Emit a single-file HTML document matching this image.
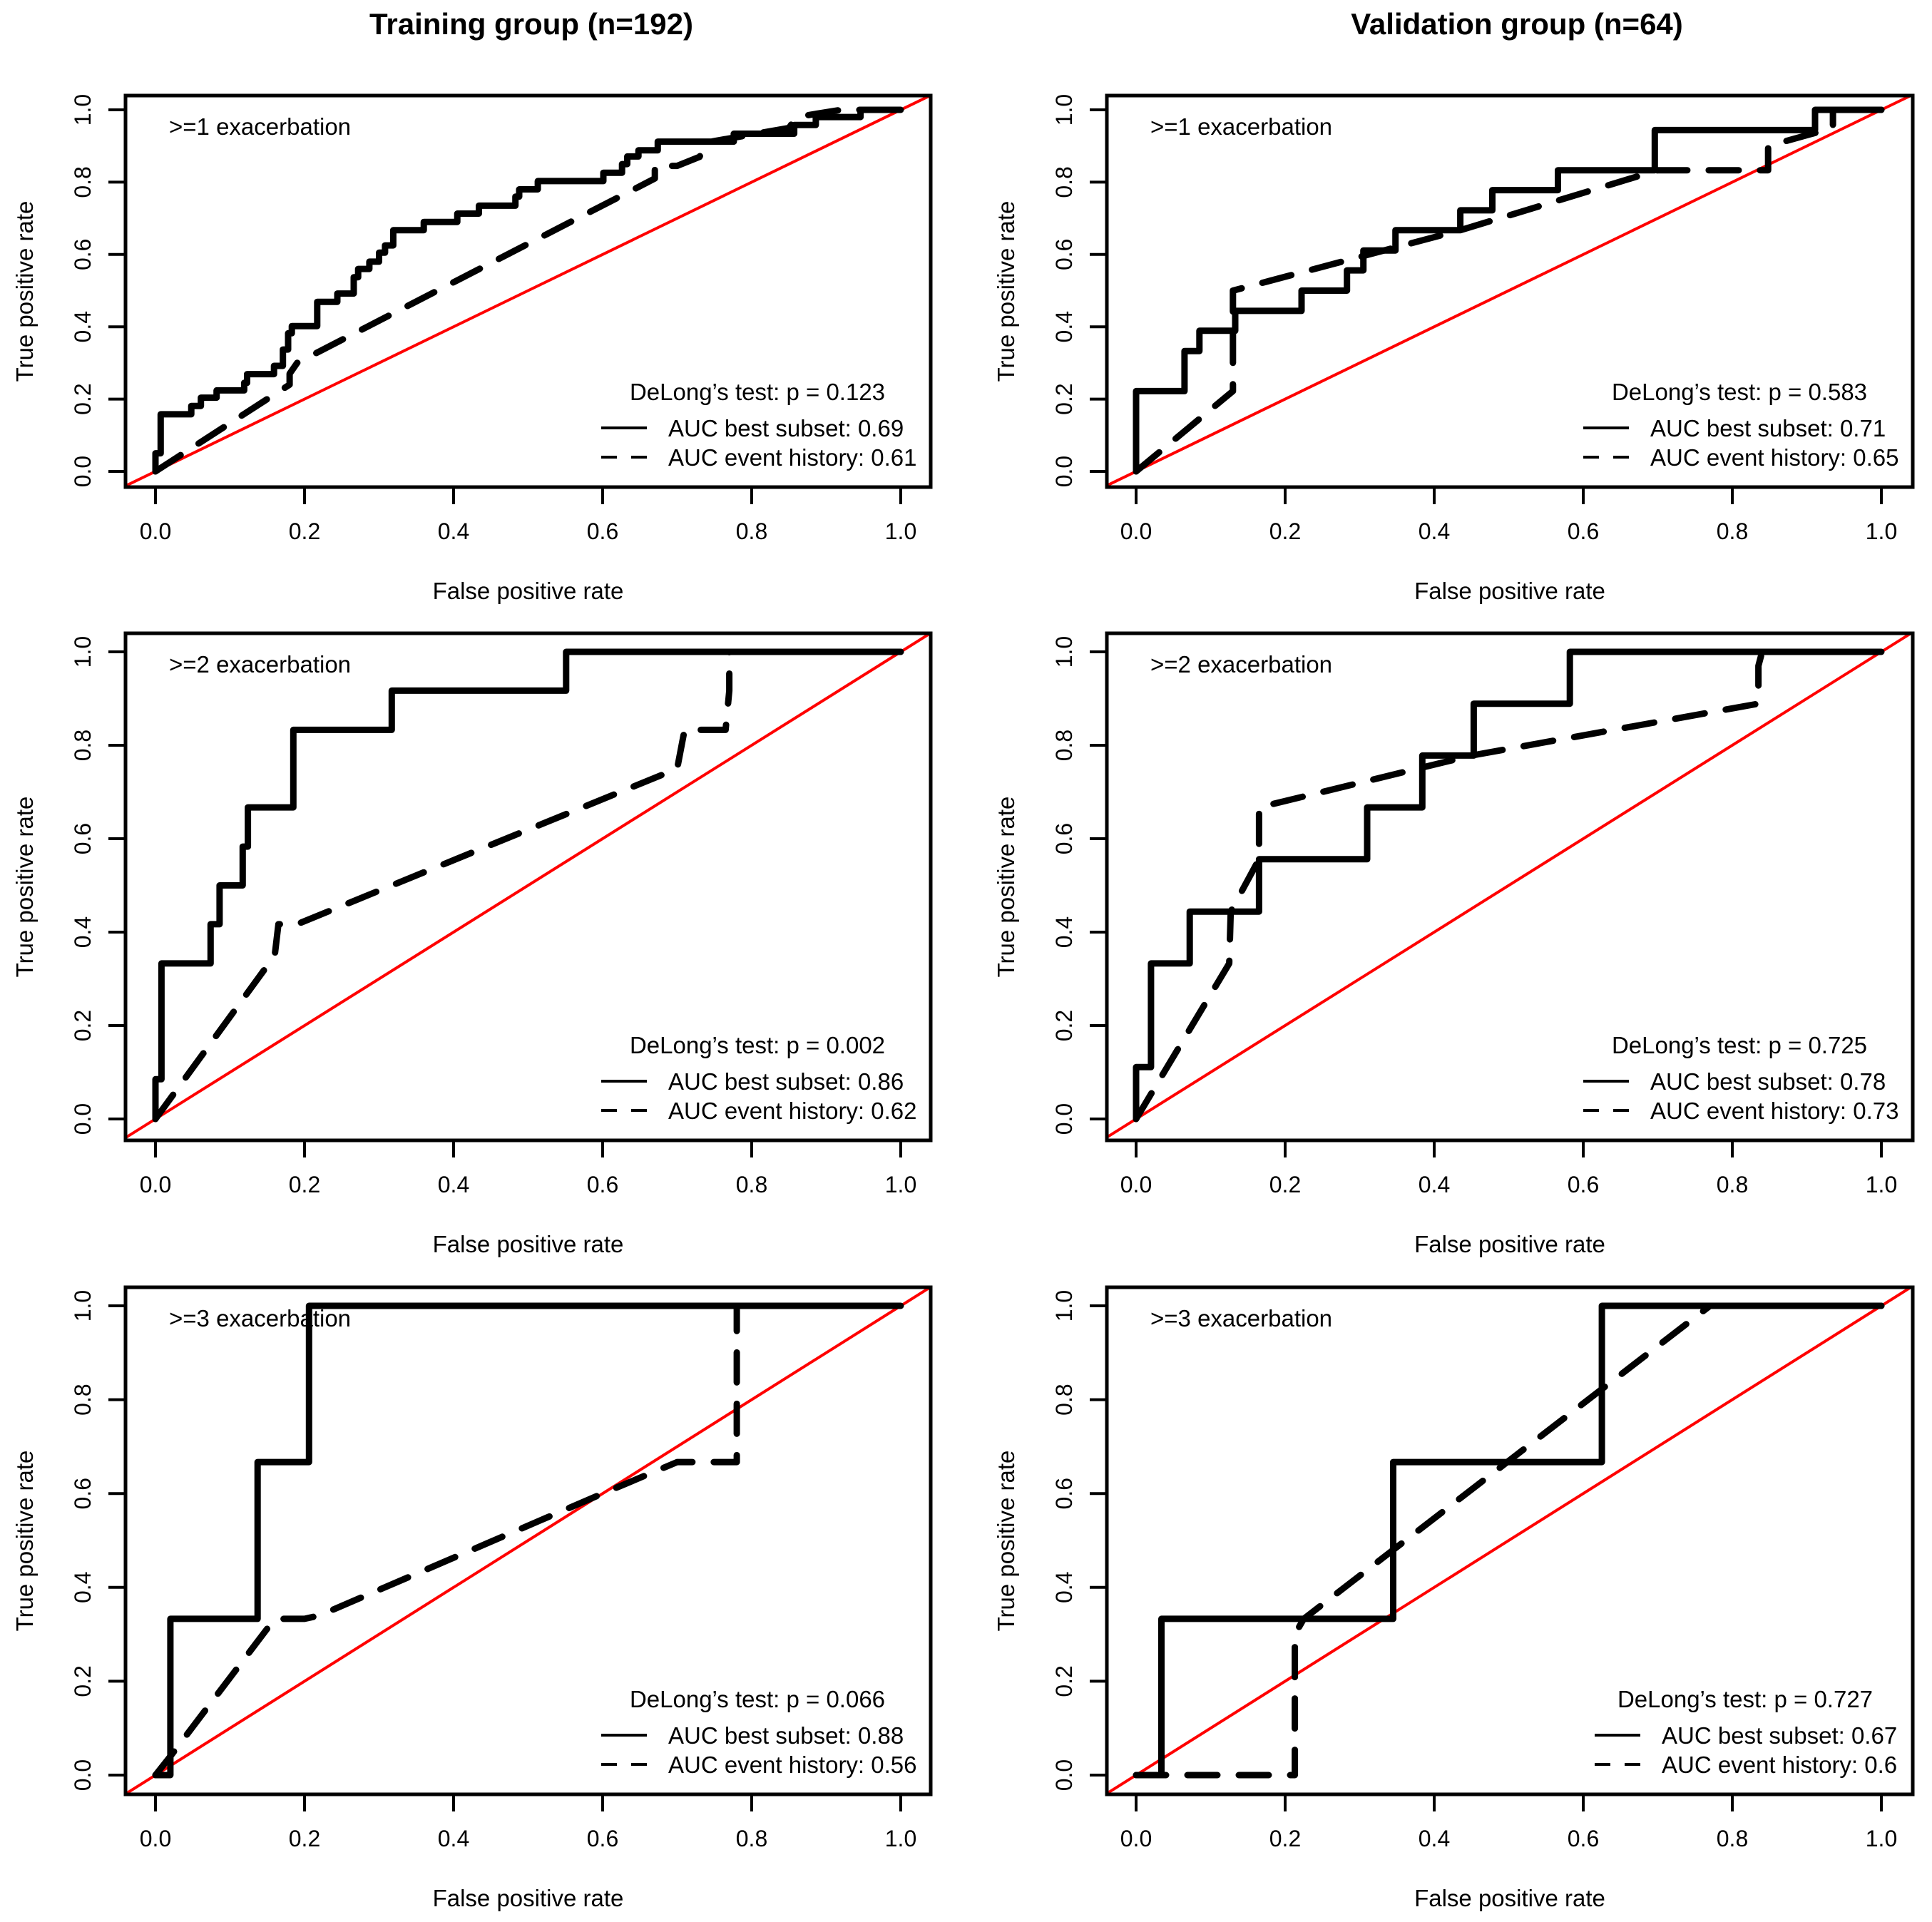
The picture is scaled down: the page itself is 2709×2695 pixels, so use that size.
<!DOCTYPE html>
<html><head><meta charset="utf-8"><title>ROC curves</title>
<style>
html,body{margin:0;padding:0;background:#fff;}
svg{display:block;font-family:"Liberation Sans",Arial,sans-serif;}
</style></head>
<body>
<svg id="chart" width="2709" height="2695" viewBox="0 0 2709 2695" xmlns="http://www.w3.org/2000/svg">
<rect x="0" y="0" width="2709" height="2695" fill="#fff"/>
<text x="745" y="48" font-size="42" font-weight="bold" text-anchor="middle">Training group (n=192)</text>
<text x="2127" y="48" font-size="42" font-weight="bold" text-anchor="middle">Validation group (n=64)</text>
</svg>
<script>
// ---- data ----
const ticks = [0, 0.2, 0.4, 0.6, 0.8, 1.0];
const tickLabels = ["0.0", "0.2", "0.4", "0.6", "0.8", "1.0"];
const panelLabels = [">=1 exacerbation", ">=2 exacerbation", ">=3 exacerbation", ">=1 exacerbation", ">=2 exacerbation", ">=3 exacerbation"];
const delongP = ["0.123", "0.002", "0.066", "0.583", "0.725", "0.727"];
const aucBest = ["0.69", "0.86", "0.88", "0.71", "0.78", "0.67"];
const aucHistory = ["0.61", "0.62", "0.56", "0.65", "0.73", "0.6"];

// Training >=1
const t1SolidX = [0,0,0.007,0.007,0.048,0.048,0.061,0.061,0.082,0.082,0.119,0.119,0.123,0.123,0.159,0.159,0.171,0.171,0.178,0.178,0.183,0.183,0.217,0.217,0.244,0.244,0.266,0.266,0.272,0.272,0.287,0.287,0.300,0.300,0.308,0.308,0.319,0.319,0.360,0.360,0.405,0.405,0.434,0.434,0.483,0.483,0.488,0.488,0.513,0.513,0.601,0.601,0.626,0.626,0.633,0.633,0.648,0.648,0.674,0.674,0.776,0.776,0.857,0.857,0.886,0.886,0.946,0.946,1.0];
const t1SolidY = [0,0.05,0.05,0.158,0.158,0.181,0.181,0.204,0.204,0.224,0.224,0.245,0.245,0.269,0.269,0.292,0.292,0.337,0.337,0.382,0.382,0.402,0.402,0.469,0.469,0.492,0.492,0.537,0.537,0.56,0.56,0.58,0.58,0.605,0.605,0.625,0.625,0.667,0.667,0.69,0.69,0.713,0.713,0.735,0.735,0.76,0.76,0.78,0.78,0.803,0.803,0.826,0.826,0.85,0.85,0.871,0.871,0.888,0.888,0.912,0.912,0.934,0.934,0.958,0.958,0.98,0.98,1.0,1.0];
const t1DashX = [0,0.18,0.18,0.19,0.67,0.67,0.70,0.73,0.74,0.85,0.86,0.92,1.0];
const t1DashY = [0,0.24,0.27,0.30,0.81,0.845,0.845,0.87,0.91,0.95,0.98,1.0,1.0];
// Training >=2
const t2SolidX = [0,0,0.008,0.008,0.074,0.074,0.086,0.086,0.117,0.117,0.124,0.124,0.185,0.185,0.317,0.317,0.551,0.551,1.0];
const t2SolidY = [0,0.085,0.085,0.333,0.333,0.417,0.417,0.5,0.5,0.583,0.583,0.667,0.667,0.833,0.833,0.917,0.917,1.0,1.0];
const t2DashX = [0,0.16,0.165,0.19,0.70,0.71,0.765,0.77,0.77,1.0];
const t2DashY = [0,0.35,0.417,0.417,0.75,0.833,0.833,0.917,1.0,1.0];
// Training >=3
const t3SolidX = [0,0.02,0.02,0.137,0.137,0.206,0.206,1.0];
const t3SolidY = [0,0,0.333,0.333,0.667,0.667,1.0,1.0];
const t3DashX = [0,0.02,0.16,0.20,0.22,0.60,0.70,0.78,0.78,1.0];
const t3DashY = [0,0.04,0.333,0.333,0.34,0.60,0.667,0.667,1.0,1.0];
// Validation >=1
const v1SolidX = [0,0,0.065,0.065,0.085,0.085,0.133,0.133,0.222,0.222,0.283,0.283,0.305,0.305,0.348,0.348,0.435,0.435,0.478,0.478,0.566,0.566,0.696,0.696,0.911,0.911,1.0];
const v1SolidY = [0,0.222,0.222,0.333,0.333,0.389,0.389,0.444,0.444,0.5,0.5,0.556,0.556,0.611,0.611,0.667,0.667,0.722,0.722,0.778,0.778,0.833,0.833,0.944,0.944,1.0,1.0];
const v1DashX = [0,0.13,0.13,0.435,0.70,0.848,0.848,0.935,0.935,1.0];
const v1DashY = [0,0.222,0.5,0.667,0.833,0.833,0.9,0.95,1.0,1.0];
// Validation >=2
const v2SolidX = [0,0,0.02,0.02,0.072,0.072,0.165,0.165,0.31,0.31,0.384,0.384,0.453,0.453,0.582,0.582,1.0];
const v2SolidY = [0,0.111,0.111,0.333,0.333,0.444,0.444,0.556,0.556,0.667,0.667,0.778,0.778,0.889,0.889,1.0,1.0];
const v2DashX = [0,0.125,0.127,0.165,0.165,0.45,0.835,0.835,0.84,1.0];
const v2DashY = [0,0.333,0.444,0.556,0.667,0.778,0.889,0.97,1.0,1.0];
// Validation >=3
const v3SolidX = [0,0.034,0.034,0.345,0.345,0.625,0.625,1.0];
const v3SolidY = [0,0,0.333,0.333,0.667,0.667,1.0,1.0];
const v3DashX = [0,0.213,0.213,0.225,0.77,1.0];
const v3DashY = [0,0,0.3,0.333,1.0,1.0];

const solidX = [t1SolidX, t2SolidX, t3SolidX, v1SolidX, v2SolidX, v3SolidX];
const solidY = [t1SolidY, t2SolidY, t3SolidY, v1SolidY, v2SolidY, v3SolidY];
const dashX = [t1DashX, t2DashX, t3DashX, v1DashX, v2DashX, v3DashX];
const dashY = [t1DashY, t2DashY, t3DashY, v1DashY, v2DashY, v3DashY];

// ---- layout ----
const cols = [
  {boxL:176, boxR:1305, x0:218, x1:1263},
  {boxL:1552, boxR:2682, x0:1593, x1:2638}
];
const rows = [
  {boxT:134, boxB:683, y1:154, y0:661},
  {boxT:888, boxB:1599, y1:914, y0:1569},
  {boxT:1805, boxB:2516, y1:1831, y0:2489}
];
const legendShift = [0,0,0,0,0,16];

const NS = "http://www.w3.org/2000/svg";
const svg = document.getElementById("chart");
function mk(tag, attrs, parent) {
  const e = document.createElementNS(NS, tag);
  for (const k in attrs) e.setAttribute(k, attrs[k]);
  (parent || svg).appendChild(e);
  return e;
}

for (let p = 0; p < 6; p++) {
  const c = cols[Math.floor(p / 3)], r = rows[p % 3];
  const sx = v => c.x0 + v * (c.x1 - c.x0);
  const sy = v => r.y0 - v * (r.y0 - r.y1);
  const g = mk("g", {});
  
  

  const clipId = "clip" + p;
  const cp = mk("clipPath", {id: clipId}, g);
  mk("rect", {x: c.boxL, y: r.boxT, width: c.boxR - c.boxL, height: r.boxB - r.boxT}, cp);

  // reference diagonal
  const diag = mk("line", {x1: sx(-0.05), y1: sy(-0.05), x2: sx(1.05), y2: sy(1.05), stroke: "#ff0000", "stroke-width": 4, "clip-path": "url(#" + clipId + ")"}, g);
  
  

  // dashed curve
  let d = "";
  dashX[p].forEach((v, i) => { d += (i ? "L" : "M") + sx(v).toFixed(1) + "," + sy(dashY[p][i]).toFixed(1); });
  const dl = mk("path", {d: d, fill: "none", stroke: "#000", "stroke-width": 9, "stroke-dasharray": "42 30", "stroke-linecap": "round", "stroke-linejoin": "round"}, g);
  
  

  // solid curve
  d = "";
  solidX[p].forEach((v, i) => { d += (i ? "L" : "M") + sx(v).toFixed(1) + "," + sy(solidY[p][i]).toFixed(1); });
  const sl = mk("path", {d: d, fill: "none", stroke: "#000", "stroke-width": 9, "stroke-linecap": "round", "stroke-linejoin": "round"}, g);
  
  

  // box
  const box = mk("rect", {x: c.boxL, y: r.boxT, width: c.boxR - c.boxL, height: r.boxB - r.boxT, fill: "none", stroke: "#000", "stroke-width": 5}, g);
  
  

  // axes ticks
  ticks.forEach((t, i) => {
    const xt = mk("line", {x1: sx(t), y1: r.boxB, x2: sx(t), y2: r.boxB + 24, stroke: "#000", "stroke-width": 4}, g);
    
    
    const xl = mk("text", {x: sx(t), y: r.boxB + 73, "font-size": 32, "text-anchor": "middle"}, g);
    xl.textContent = tickLabels[i];
    
    
    const yt = mk("line", {x1: c.boxL - 24, y1: sy(t), x2: c.boxL, y2: sy(t), stroke: "#000", "stroke-width": 4}, g);
    
    
    const yx = c.boxL - 49, yy = sy(t);
    const yl = mk("text", {x: yx, y: yy, "font-size": 32, "text-anchor": "middle", transform: "rotate(-90 " + yx + " " + yy + ")"}, g);
    yl.textContent = tickLabels[i];
    
    
  });

  // axis titles
  const xtit = mk("text", {x: (c.boxL + c.boxR) / 2, y: r.boxB + 157, "font-size": 33, "text-anchor": "middle"}, g);
  xtit.textContent = "False positive rate";
  
  
  const tx = c.boxL - 130, ty = (r.boxT + r.boxB) / 2;
  const ytit = mk("text", {x: tx, y: ty, "font-size": 33, "text-anchor": "middle", transform: "rotate(-90 " + tx + " " + ty + ")"}, g);
  ytit.textContent = "True positive rate";
  
  

  // panel label
  const pl = mk("text", {x: c.boxL + 61, y: r.boxT + 55, "font-size": 33}, g);
  pl.textContent = panelLabels[p];
  
  

  // legend
  const ls = legendShift[p];
  const dt = mk("text", {x: c.boxR - 243 + ls / 2, y: r.boxB - 122, "font-size": 33, "text-anchor": "middle"}, g);
  dt.textContent = "DeLong\u2019s test: p = " + delongP[p];
  
  
  const l1y = r.boxB - 83, l2y = r.boxB - 42;
  const ln1 = mk("line", {x1: c.boxR - 462 + ls, y1: l1y, x2: c.boxR - 398 + ls, y2: l1y, stroke: "#000", "stroke-width": 4}, g);
  
  
  const t1 = mk("text", {x: c.boxR - 368 + ls, y: l1y + 12, "font-size": 33}, g);
  t1.textContent = "AUC best subset: " + aucBest[p];
  
  
  const ln2 = mk("line", {x1: c.boxR - 462 + ls, y1: l2y, x2: c.boxR - 398 + ls, y2: l2y, stroke: "#000", "stroke-width": 4, "stroke-dasharray": "22 20"}, g);
  
  
  const t2 = mk("text", {x: c.boxR - 368 + ls, y: l2y + 12, "font-size": 33}, g);
  t2.textContent = "AUC event history: " + aucHistory[p];
  
  
}
</script>
</body></html>
